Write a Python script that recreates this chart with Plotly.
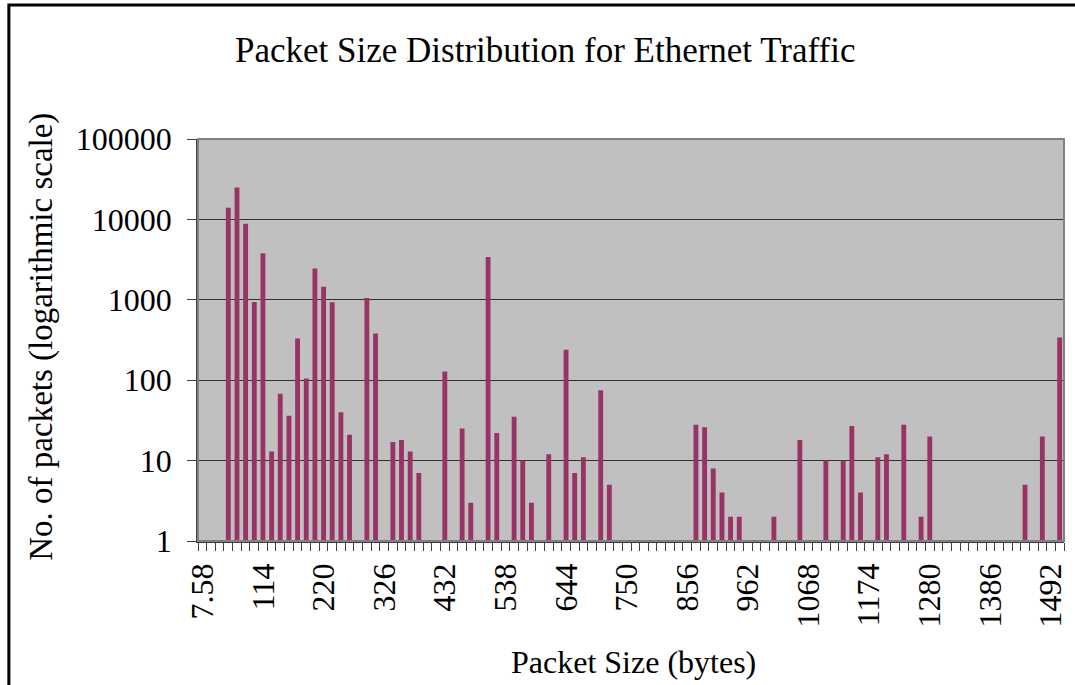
import plotly.graph_objects as go

# Bin centres (bytes) of the non-empty bins, bin width ~15.15 bytes
packet_sizes = [53.0, 68.2, 83.3, 98.5, 113.6, 128.8, 143.9, 159.1, 174.2, 189.4,
                204.5, 219.7, 234.8, 250.0, 265.1, 295.4, 310.6, 340.9, 356.0, 371.2,
                386.3, 431.8, 462.1, 477.2, 507.5, 522.7, 553.0, 568.1, 583.3, 613.6,
                643.9, 659.0, 674.2, 704.5, 719.6, 871.1, 886.3, 901.4, 916.6, 931.7,
                946.9, 1007.5, 1052.9, 1098.4, 1128.7, 1143.8, 1159.0, 1189.3, 1204.4,
                1234.7, 1265.0, 1280.2, 1446.8, 1477.1, 1507.4]
packet_counts = [14000, 25000, 8800, 940, 3800, 13, 68, 36, 330, 105,
                 2450, 1450, 930, 40, 21, 1050, 380, 17, 18, 13,
                 7, 128, 25, 3, 3400, 22, 35, 10, 3, 12,
                 240, 7, 11, 75, 5, 28, 26, 8, 4, 2,
                 2, 2, 18, 10, 10, 27, 4, 11, 12,
                 28, 2, 20, 5, 20, 340]

x_tick_labels = ["7.58", "114", "220", "326", "432", "538", "644", "750",
                 "856", "962", "1068", "1174", "1280", "1386", "1492"]
y_tick_labels = ["1", "10", "100", "1000", "10000", "100000"]

bin_width = 15.15
x_range = [0, 1515]

FONT = "Liberation Serif, Times New Roman, serif"

fig = go.Figure()
fig.add_trace(go.Bar(
    x=packet_sizes,
    y=packet_counts,
    width=bin_width * 0.56,
    marker=dict(color="#993366", line=dict(width=0)),
    showlegend=False,
))

fig.update_layout(
    width=1075, height=685, autosize=False,
    margin=dict(l=198, r=7, t=139, b=144),
    paper_bgcolor="white",
    plot_bgcolor="#C0C0C0",
    font=dict(family=FONT, size=32, color="black"),
    xaxis=dict(
        type="linear", range=x_range,
        tickvals=[float(v) for v in x_tick_labels],
        ticktext=x_tick_labels,
        tickangle=-90,
        ticks="", showgrid=False, zeroline=False,
        ticklabelstandoff=8,
        tickfont=dict(family=FONT, size=32, color="black"),
        showline=True, linecolor="#404040", linewidth=1.5,
        minor=dict(ticks="outside", dtick=bin_width, tick0=0, ticklen=8,
                   tickcolor="#404040", tickwidth=1, showgrid=False),
    ),
    yaxis=dict(
        type="log", range=[0, 5],
        tickvals=[float(v) for v in y_tick_labels],
        ticktext=y_tick_labels,
        ticks="outside", ticklen=9, tickcolor="#404040", tickwidth=1,
        ticklabelstandoff=9,
        tickfont=dict(family=FONT, size=32, color="black"),
        showgrid=True, gridcolor="#303030", gridwidth=1,
        zeroline=False,
        showline=True, linecolor="#404040", linewidth=1.5,
    ),
    shapes=[
        dict(type="rect", xref="paper", yref="paper", x0=0, x1=1, y0=0, y1=1,
             line=dict(color="#808080", width=2), layer="above"),
        dict(type="rect", xref="paper", yref="paper",
             x0=(8 - 198) / 870, x1=1.1, y0=-0.5, y1=(541 - 5) / 402,
             line=dict(color="black", width=3)),
    ],
    annotations=[
        dict(text="Packet Size Distribution for Ethernet Traffic",
             xref="paper", yref="paper", x=(547 - 198) / 870, y=(541 - 50) / 402,
             xanchor="center", yanchor="middle", showarrow=False,
             font=dict(family=FONT, size=35, color="black")),
        dict(text="No. of packets (logarithmic scale)",
             xref="paper", yref="paper", x=(40 - 198) / 870, y=(541 - 563) / 402,
             xanchor="center", yanchor="bottom", textangle=-90, showarrow=False,
             font=dict(family=FONT, size=33, color="black")),
        dict(text="Packet Size (bytes)",
             xref="paper", yref="paper", x=(636 - 198) / 870, y=(541 - 662) / 402,
             xanchor="center", yanchor="middle", showarrow=False,
             font=dict(family=FONT, size=32, color="black")),
    ],
)

fig.write_html("out.html",
               config={"displayModeBar": False},
               post_script="document.body.style.margin='0px';"
                           "document.body.style.overflow='hidden';")
